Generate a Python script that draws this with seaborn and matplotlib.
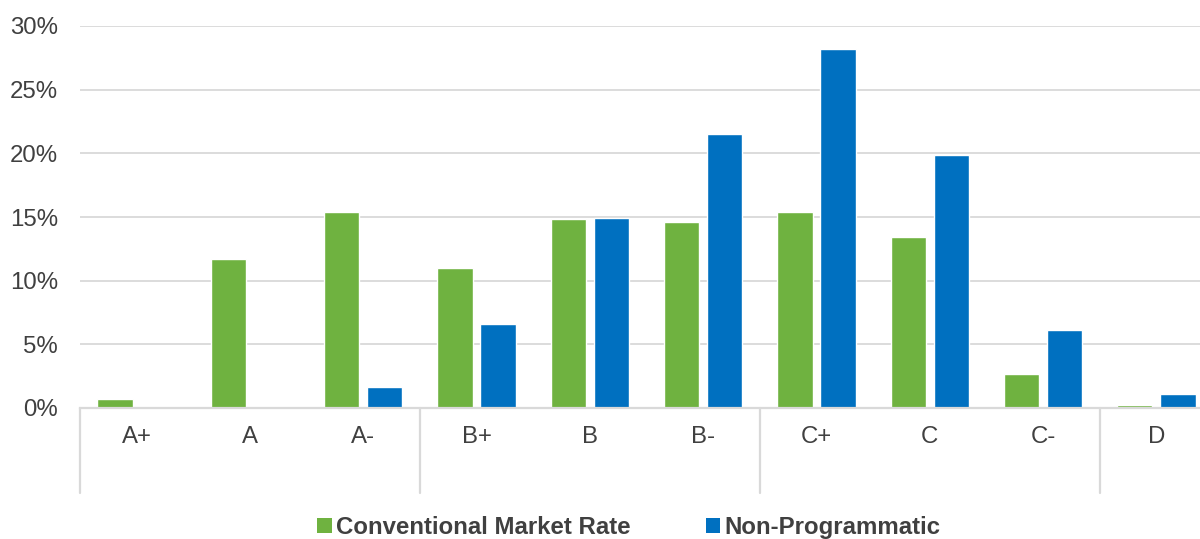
import matplotlib
matplotlib.use("Agg")
import matplotlib.pyplot as plt
import matplotlib.transforms as mtransforms
from matplotlib.patches import Patch
import numpy as np
import pandas as pd
import seaborn as sns

# Grade distribution by loan program
grades = ["A+", "A", "A-", "B+", "B", "B-", "C+", "C", "C-", "D"]
conventional = [0.68, 11.7, 15.4, 11.0, 14.85, 14.6, 15.4, 13.45, 2.7, 0.2]
non_programmatic = [0.0, 0.0, 1.65, 6.6, 14.9, 21.5, 28.2, 19.9, 6.1, 1.1]
series_names = ["Conventional Market Rate", "Non-Programmatic"]
series_colors = ["#6FB240", "#0070C0"]
y_ticks = [0, 5, 10, 15, 20, 25, 30]

df = pd.DataFrame({
    "grade": grades * 2,
    "value": conventional + non_programmatic,
    "series": [series_names[0]] * len(grades) + [series_names[1]] * len(grades),
})

sns.set_theme(style="white")
plt.rcParams["font.family"] = ["Liberation Sans", "DejaVu Sans"]
text_color = "#404040"
grid_color = "#D9D9D9"
font_size = 17.3

fig = plt.figure(figsize=(12, 5.39), dpi=100)
left, right = 80 / 1200, 1213 / 1200
bottom, top = 1 - 408 / 539, 1 - 26 / 539
ax = fig.add_axes([left, bottom, right - left, top - bottom])

sns.barplot(data=df, x="grade", y="value", hue="series", order=grades,
            hue_order=series_names, palette=series_colors, width=0.76,
            gap=0.18, ax=ax, legend=False, saturation=1)

ax.set_xlim(-0.5, len(grades) - 0.5)
ax.set_ylim(0, 30)
ax.set_yticks(y_ticks)
ax.set_yticklabels([f"{t}%" for t in y_ticks])
ax.set_xlabel("")
ax.set_ylabel("")

for t in y_ticks[1:]:
    ax.axhline(t, color=grid_color, lw=1.3, zorder=0)

for s in ["top", "right", "left"]:
    ax.spines[s].set_visible(False)
ax.spines["bottom"].set_color(grid_color)
ax.spines["bottom"].set_linewidth(1.6)

ax.tick_params(axis="y", length=0, pad=16, labelsize=font_size, labelcolor=text_color)
ax.tick_params(axis="x", length=0, pad=13, labelsize=font_size, labelcolor=text_color)

# Group separators below the axis (A / B / C / D bands)
trans = mtransforms.blended_transform_factory(ax.transData, ax.transAxes)
for xs in [-0.5, 2.5, 5.5, 8.5]:
    ax.plot([xs, xs], [0, -85 / 382], transform=trans, color=grid_color,
            lw=1.6, clip_on=False)

handles = [Patch(facecolor=c, edgecolor="none") for c in series_colors]
leg = fig.legend(handles, series_names, loc="center",
                 bbox_to_anchor=(629 / 1200, 1 - 527.5 / 539), ncol=2,
                 frameon=False, handlelength=0.6, handleheight=0.6,
                 handletextpad=0.2, columnspacing=3.1,
                 prop={"size": font_size, "weight": "bold"})
for txt in leg.get_texts():
    txt.set_color(text_color)

fig.savefig("out.png", dpi=100)
